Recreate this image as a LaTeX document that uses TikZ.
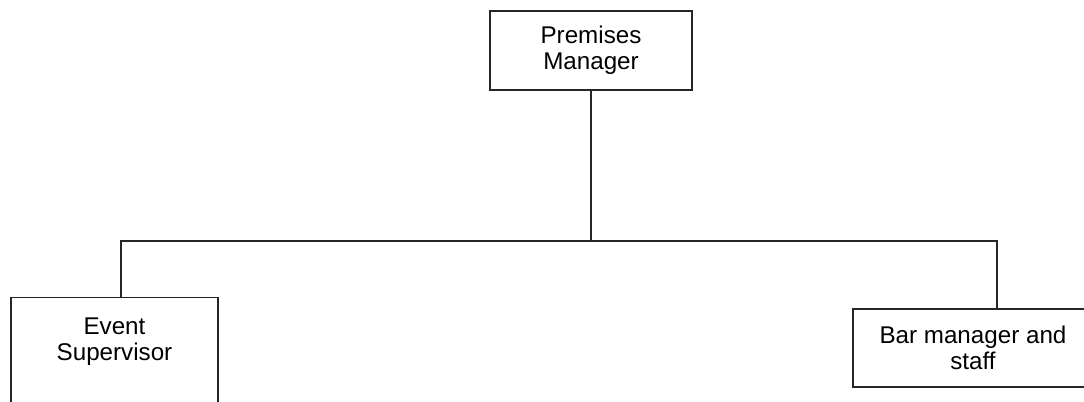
\documentclass[tikz,border=0pt]{standalone}
\usepackage{fontspec}
\setmainfont{Liberation Sans}
\usetikzlibrary{positioning}

\begin{document}
\begin{tikzpicture}[
    x=0.025cm, y=-0.025cm,
    every node/.style={font=\fontsize{17.2}{18.8}\selectfont},
    role/.style={rectangle, draw=black!85, line width=1pt, align=center, inner sep=0pt},
    link/.style={draw=black!85, line width=1pt}
]
\useasboundingbox (0,0) rectangle (1084,401);

% top of the chart
\node[role, minimum width=5.05cm, minimum height=1.975cm] (prem) at (591,50.5) {Premises\\Manager};

% the two reports
\node[role, anchor=north, minimum width=5.175cm, inner ysep=0.5cm, text depth=2.5cm] (event) at (114.5,297) {Event\\Supervisor};
\node[role, minimum width=6cm, minimum height=1.95cm] (bar) at (973,348) {Bar manager and\\staff};

\coordinate (bus) at (590,241);

% trunk down to the bus
\draw[link] (prem.south) -- (prem.south |- bus);

% bus out to both reports
\draw[link] ([xshift=0.16cm]event.north) |- (bus) -| ([xshift=0.6cm]bar.north);

\end{tikzpicture}
\end{document}
